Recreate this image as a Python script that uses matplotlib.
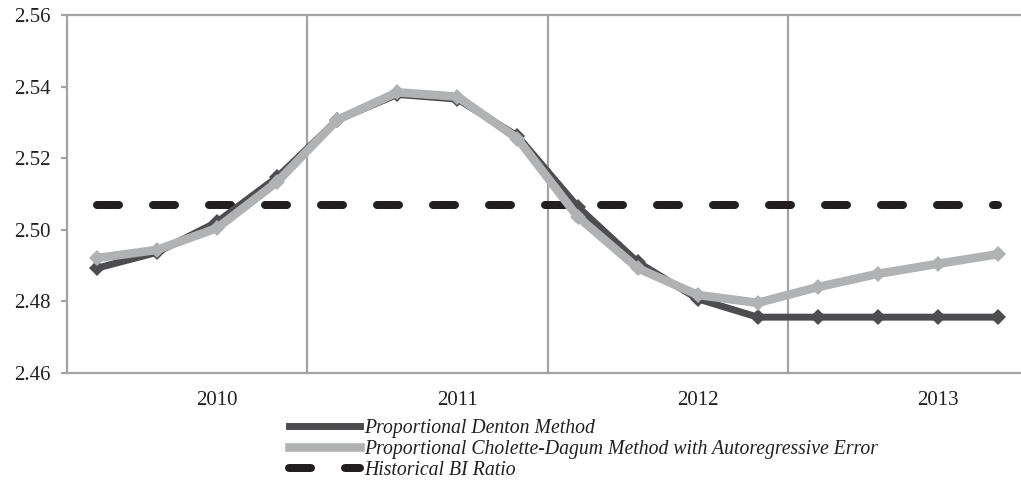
import matplotlib
matplotlib.use("Agg")
import matplotlib.pyplot as plt
import numpy as np

# quarterly data 2010Q1 .. 2013Q4
years = ["2010", "2011", "2012", "2013"]
denton = [2.4893, 2.4937, 2.5022, 2.5147, 2.5307, 2.5378, 2.5365, 2.5262,
          2.5065, 2.4910, 2.4807, 2.4756, 2.4756, 2.4756, 2.4756, 2.4756]
cholette = [2.4921, 2.4944, 2.5005, 2.5134, 2.5307, 2.5384, 2.5372, 2.5255,
            2.5037, 2.4893, 2.4818, 2.4796, 2.4840, 2.4877, 2.4905, 2.4932]
hist_bi = [2.507] * 16

labels = ["Proportional Denton Method",
          "Proportional Cholette-Dagum Method with Autoregressive Error",
          "Historical BI Ratio"]

plt.rcParams['font.family'] = ['Liberation Serif', 'DejaVu Serif']
txt = '#231f20'
grey = '#a3a3a6'

fig = plt.figure(figsize=(10.21, 4.82), dpi=100)
W, H = 1021, 482
ax = fig.add_axes([67 / W, 1 - 373 / H, (1028 - 67) / W, (373 - 15) / H])

x = np.arange(len(denton))

# 历史比率虚线
ax.plot(x, hist_bi, color=txt, lw=5.76, dashes=(2.75, 4.25),
        dash_capstyle='round', zorder=3, label=labels[2])
ax.plot(x, denton, color='#4d4d4f', lw=5.0, marker='D', ms=8.5, mew=0,
        zorder=4, label=labels[0])
ax.plot(x, cholette, color='#b1b2b4', lw=6.2, marker='D', ms=8.5, mew=0,
        zorder=5, label=labels[1])

ax.set_xlim(-0.5, 15.5)
ax.set_ylim(2.46, 2.56)
ax.set_yticks(np.arange(2.46, 2.5601, 0.02))
ax.set_yticklabels([f"{v:.2f}" for v in np.arange(2.46, 2.5601, 0.02)])
ax.set_xticks([2, 6, 10, 14])
ax.set_xticklabels(years)

for b in [3.5, 7.5, 11.5]:
    ax.axvline(b, color=grey, lw=1.6, zorder=1)

ax.spines['right'].set_visible(False)
for s in ['left', 'bottom', 'top']:
    ax.spines[s].set_color(grey)
    ax.spines[s].set_linewidth(1.6)

ax.tick_params(axis='y', length=4, width=1.6, color=grey, pad=8,
               labelsize=15, labelcolor=txt)
ax.tick_params(axis='x', length=0, pad=13, labelsize=15, labelcolor=txt)

handles, _ = ax.get_legend_handles_labels()
order = [1, 2, 0]
leg = fig.legend([handles[i] for i in order], labels,
                 loc='upper left', bbox_to_anchor=(289 / W, 1 - 419 / H),
                 frameon=False, handlelength=3.6, handletextpad=0.2,
                 labelspacing=0.1, borderpad=0, borderaxespad=0,
                 prop={'style': 'italic', 'size': 14.2})
for t in leg.get_texts():
    t.set_color(txt)
for h in leg.legend_handles:
    h.set_markersize(3)

fig.savefig("out.png", dpi=100)
